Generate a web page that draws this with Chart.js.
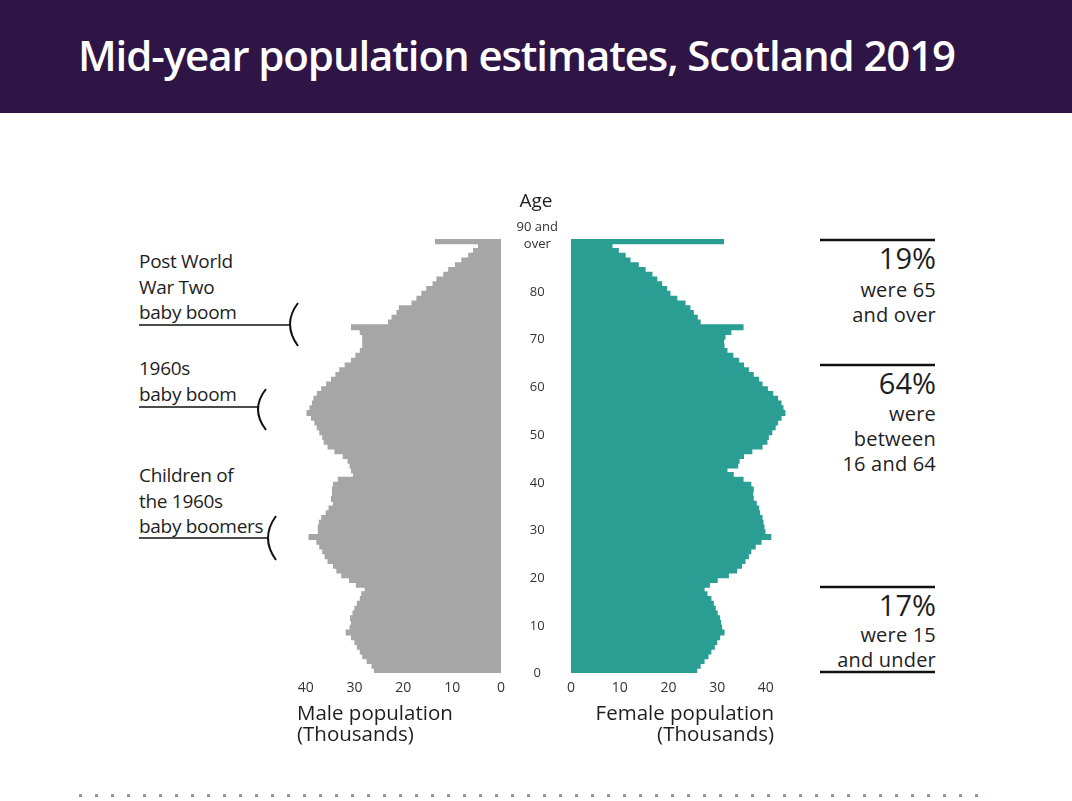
<!DOCTYPE html>
<html>
<head>
<meta charset="utf-8">
<title>Mid-year population estimates, Scotland 2019</title>
<script src="https://cdn.jsdelivr.net/npm/chart.js@4.4.1/dist/chart.umd.min.js"></script>
<style>
  body { margin: 0; width: 1072px; height: 801px; position: relative; overflow: hidden; background: #fff; font-family: 'Open Sans', sans-serif; color: #1e1e1e; }
  .header { position: absolute; left: 0; top: 0; width: 1072px; height: 113px; background: #2f1446; }
  .header h1 { position: absolute; left: 78px; top: 34px; margin: 0; font-size: 42px; line-height: 42px; font-weight: 600; color: #fff; letter-spacing: -1.1px; white-space: nowrap; }
  canvas { position: absolute; }
  .note { position: absolute; left: 139px; font-size: 19px; line-height: 25.5px; letter-spacing: -0.3px; white-space: nowrap; }
  .share { position: absolute; right: 136px; text-align: right; white-space: nowrap; }
  .pct { font-size: 29px; line-height: 30px; }
  .desc { font-size: 20px; line-height: 25px; letter-spacing: 0.2px; }
  .axis-title { position: absolute; font-size: 20.5px; line-height: 21px; white-space: nowrap; }
  .age-head { position: absolute; left: 506px; width: 60px; top: 187px; text-align: center; font-size: 19px; line-height: 26px; }
  .dots { position: absolute; left: 79px; top: 794px; width: 910px; height: 3px; background: linear-gradient(to right, #7f9f9c 3px, transparent 3px) 0 0 / 16px 3px repeat-x; }
  svg { position: absolute; left: 0; top: 0; pointer-events: none; }
</style>
</head>
<body>
<div class="header"><h1>Mid-year population estimates, Scotland 2019</h1></div>

<canvas id="male" width="240" height="538" style="left:281px; top:215px;"></canvas>
<canvas id="female" width="306" height="574" style="left:505px; top:179px;"></canvas>

<div class="age-head">Age</div>

<div class="note" style="top:249px;">Post World<br>War Two<br>baby boom</div>
<div class="note" style="top:356px;">1960s<br>baby boom</div>
<div class="note" style="top:463px;">Children of<br>the 1960s<br>baby boomers</div>

<div class="share pct" style="top:243px;">19%</div>
<div class="share desc" style="top:277px;">were 65<br>and over</div>
<div class="share pct" style="top:368px;">64%</div>
<div class="share desc" style="top:401px;">were<br>between<br>16 and 64</div>
<div class="share pct" style="top:590px;">17%</div>
<div class="share desc" style="top:622px;">were 15<br>and under</div>

<div class="axis-title" style="left:297px; top:702px;">Male population<br>(Thousands)</div>
<div class="axis-title" style="right:298px; top:702px; text-align:right;">Female population<br>(Thousands)</div>

<svg width="1072" height="801">
  <g stroke="#111" fill="none">
    <line x1="139" y1="325" x2="290" y2="325" stroke-width="1.6"/>
    <path d="M298,303 Q282,324 298,346" stroke-width="2"/>
    <line x1="139" y1="407" x2="258" y2="407" stroke-width="1.6"/>
    <path d="M266,389 Q250,409 266,430" stroke-width="2"/>
    <line x1="139" y1="538" x2="268" y2="538" stroke-width="1.6"/>
    <path d="M276,516 Q260,538 276,560" stroke-width="2"/>
    <line x1="820" y1="240" x2="935" y2="240" stroke-width="2.6"/>
    <line x1="820" y1="365" x2="935" y2="365" stroke-width="2.6"/>
    <line x1="820" y1="587" x2="935" y2="587" stroke-width="2.6"/>
    <line x1="820" y1="672" x2="935" y2="672" stroke-width="2.6"/>
  </g>
</svg>

<div class="dots"></div>

<script>
// single year of age, 0 to 90 (last one is "90 and over")
const ages = [
  0, 1, 2, 3, 4, 5, 6, 7, 8, 9,
  10, 11, 12, 13, 14, 15, 16, 17, 18, 19,
  20, 21, 22, 23, 24, 25, 26, 27, 28, 29,
  30, 31, 32, 33, 34, 35, 36, 37, 38, 39,
  40, 41, 42, 43, 44, 45, 46, 47, 48, 49,
  50, 51, 52, 53, 54, 55, 56, 57, 58, 59,
  60, 61, 62, 63, 64, 65, 66, 67, 68, 69,
  70, 71, 72, 73, 74, 75, 76, 77, 78, 79,
  80, 81, 82, 83, 84, 85, 86, 87, 88, 89,
  90
];

// population in thousands, by age
const malePop = [
  25.9, 26.4, 27.4, 28.3, 28.8, 29.4, 29.9, 30.6, 31.7, 30.9,
  30.6, 30.8, 30.3, 29.9, 29.4, 28.8, 28.5, 27.8, 29.6, 31.0,
  32.6, 33.6, 34.3, 35.4, 36.0, 36.5, 37.1, 37.7, 39.3, 37.4,
  37.4, 37.2, 36.7, 35.8, 35.2, 34.3, 34.7, 34.5, 34.5, 34.3,
  33.3, 30.2, 30.6, 30.9, 31.3, 32.3, 34.0, 35.4, 36.2, 36.5,
  37.1, 37.6, 38.1, 38.8, 39.7, 39.1, 38.6, 38.3, 37.6, 36.7,
  35.7, 34.7, 33.8, 33.0, 31.9, 30.6, 29.7, 28.8, 28.3, 28.3,
  28.3, 28.8, 30.6, 23.0, 22.3, 21.3, 20.8, 18.2, 17.2, 16.2,
  15.2, 13.9, 13.1, 11.7, 10.7, 9.3, 8.0, 6.6, 5.6, 4.6,
  13.4
];

const femalePop = [
  25.8, 26.5, 27.3, 28.1, 28.7, 29.4, 29.9, 30.5, 31.4, 30.9,
  30.7, 30.5, 30.0, 29.6, 29.2, 28.7, 27.9, 27.3, 28.4, 30.0,
  32.3, 34.0, 35.0, 35.7, 36.4, 36.9, 37.8, 39.0, 41.0, 39.8,
  39.6, 39.4, 39.2, 38.7, 38.5, 38.0, 37.4, 37.3, 37.4, 36.9,
  35.3, 33.3, 32.0, 34.2, 34.5, 35.4, 37.1, 39.2, 40.2, 40.5,
  41.2, 41.9, 42.4, 43.1, 43.9, 43.5, 43.1, 42.4, 41.4, 40.3,
  39.2, 38.5, 37.4, 36.4, 35.4, 34.4, 33.2, 32.0, 31.4, 31.3,
  31.6, 32.8, 35.3, 26.5, 25.9, 25.1, 24.4, 23.4, 21.7, 20.3,
  19.6, 18.6, 17.6, 16.6, 15.2, 13.8, 12.1, 11.1, 9.7, 8.4,
  31.3
];

// age axis labels, one every ten years (empty last line lifts the top label)
const ageTickLabels = ['0', '10', '20', '30', '40', '50', '60', '70', '80', ['90 and', 'over', '']];

Chart.defaults.font.family = "'Open Sans', sans-serif";
Chart.defaults.color = '#333';

const baseOptions = {
	indexAxis: 'y',
	responsive: false,
	animation: false,
	devicePixelRatio: 1,
	plugins: { legend: { display: false }, tooltip: { enabled: false } },
};

const popAxis = (reverse, max) => ({
	type: 'linear',
	min: 0,
	max: max,
	reverse: reverse,
	grid: { display: false, drawTicks: false },
	border: { display: false },
	ticks: { stepSize: 10, includeBounds: false, padding: 7, font: { size: 14 }, color: '#333' },
	afterFit: (scale) => {
		scale.height = 80;
	},
});

const barStyle = {
	borderWidth: 0,
	barPercentage: 1,
	categoryPercentage: 1,
	inflateAmount: 0.6,
};

const maleChart = new Chart(document.querySelector('#male'), {
	type: 'bar',
	data: {
		labels: ages,
		datasets: [
			{
				label: 'Male population (Thousands)',
				data: malePop,
				backgroundColor: '#a6a6a6',
				...barStyle,
			},
		],
	},
	options: {
		...baseOptions,
		layout: { padding: { left: 24.7, right: 20, top: 24, bottom: 0 } },
		scales: {
			x: popAxis(true, 40),
			y: { reverse: true, display: false },
		},
	},
});

const femaleChart = new Chart(document.querySelector('#female'), {
	type: 'bar',
	data: {
		labels: ages,
		datasets: [
			{
				label: 'Female population (Thousands)',
				data: femalePop,
				backgroundColor: '#2b9e93',
				...barStyle,
			},
		],
	},
	options: {
		...baseOptions,
		layout: { padding: { left: 0, right: 20.8, top: 60, bottom: 0 } },
		scales: {
			x: popAxis(false, 45),
			y: {
				position: 'left',
				reverse: true,
				grid: { display: false, drawTicks: false },
				border: { display: false },
				ticks: {
					autoSkip: false,
					crossAlign: 'center',
					padding: 13,
					labelOffset: 3,
					font: { size: 13, lineHeight: 1.35 },
					color: '#333',
					callback: (value, index) => (index % 10 === 0 ? ageTickLabels[index / 10] : null),
				},
				afterFit: (scale) => {
					scale.width = 66;
				},
			},
		},
	},
});
</script>
</body>
</html>
